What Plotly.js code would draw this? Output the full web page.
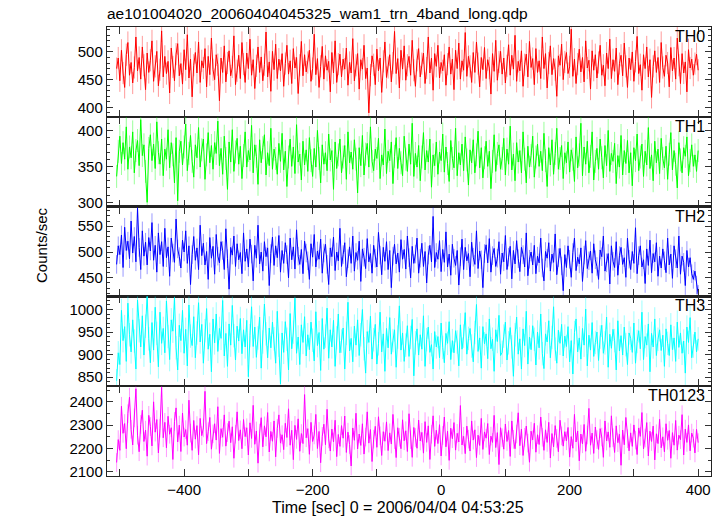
<!DOCTYPE html>
<html>
<head>
<meta charset="utf-8">
<script src="https://cdn.plot.ly/plotly-3.0.1.min.js"></script>
<style>html,body{margin:0;padding:0;background:#fff}#chart{width:724px;height:516px}</style>
</head>
<body>
<div id="chart"></div>
<script>
// Time bins (sec from 2006/04/04 04:53:25)
const tStart = -505;
const binSec = 2.5;

const bandNames = ['TH0', 'TH1', 'TH2', 'TH3', 'TH0123'];

const th0 = [
470,489,448,503,462,436,495,517,458,481,444,472,527,466,490,451,509,476,432,498,
463,485,520,447,474,501,439,468,538,455,492,461,483,426,507,473,448,496,515,457,
479,442,504,468,531,453,487,419,476,499,462,518,445,484,471,506,437,492,459,525,
468,450,495,477,412,489,463,511,446,480,502,457,473,529,441,466,494,452,517,478,
445,498,470,523,458,486,434,475,509,463,491,448,477,536,455,482,429,501,468,514,
452,487,466,497,438,479,512,460,484,443,506,471,490,425,476,519,457,495,464,481,
503,447,470,532,459,488,436,474,510,451,493,467,483,428,499,462,520,445,478,496,
455,487,469,507,440,481,462,524,448,476,497,433,486,469,512,452,471,390,458,493,
477,441,505,466,489,427,483,518,454,472,495,446,480,537,461,488,435,503,469,511,
449,476,492,458,521,467,438,485,506,455,479,498,443,471,527,462,489,431,497,474,
512,453,481,466,495,440,478,509,460,487,432,503,470,516,451,484,467,535,456,492,
474,445,499,463,518,479,437,490,468,508,452,486,471,424,497,465,521,449,482,501,
460,489,444,475,513,458,494,469,530,447,483,466,502,438,477,496,455,519,472,488,
441,506,463,484,452,527,470,497,435,480,511,459,488,468,420,493,476,514,450,482,
499,461,473,541,456,487,443,478,505,464,490,446,520,471,485,433,502,467,495,453,
481,512,458,476,439,498,470,523,452,486,465,507,441,479,494,457,516,474,436,489,
468,500,447,483,528,461,477,431,495,470,509,455,486,418,474,502,463,490,445,517,
472,456,494,480,437,508,466,489,451,525,476,443,497,462,482,428,504,471,487,458,
479,496,467];

const th1 = [
336,371,392,354,383,360,405,346,377,362,398,341,372,386,351,415,365,380,343,300,
375,394,358,381,347,412,369,353,388,337,374,360,401,348,383,366,327,390,302,371,
385,352,377,409,344,368,393,357,335,380,362,404,349,373,388,332,366,397,355,379,
346,383,368,413,351,375,339,392,361,318,384,356,401,343,370,389,353,378,333,365,
398,349,372,359,407,341,380,364,325,387,355,376,394,338,369,351,403,346,374,361,
339,382,357,396,345,371,322,363,388,350,377,340,408,356,367,331,385,352,373,343,
390,358,336,375,349,400,361,327,380,353,369,344,395,359,372,318,384,347,366,388,
341,363,379,332,398,355,370,346,387,360,313,376,351,393,338,367,382,349,405,357,
344,374,361,389,333,366,352,402,340,371,358,384,326,364,390,347,375,355,337,392,
360,343,381,353,410,336,368,349,379,330,363,397,345,372,356,388,321,366,351,384,
339,370,358,395,342,377,354,329,386,361,348,403,337,369,352,381,344,391,359,324,
373,355,387,341,366,399,348,376,334,362,385,350,371,319,357,394,343,368,380,346,
361,389,338,374,353,406,345,367,330,383,356,372,341,398,360,327,378,349,365,392,
335,363,381,350,371,344,396,358,322,376,352,387,339,368,403,346,361,379,333,369,
355,384,342,373,360,329,391,348,366,410,337,377,353,385,341,364,398,331,357,375,
346,388,362,334,379,351,400,343,368,357,382,326,365,349,393,338,372,354,386,341,
369,323,376,358,395,344,363,381,336,371,352,404,347,366,330,385,355,374,340,389,
361,348,378,332,367,397,345,372,353,320,383,359,341,376,364,391,337,358,380,350,
366,343,372];

const th2 = [
476,512,495,533,470,548,503,521,487,560,498,530,481,585,509,466,541,492,519,475,
528,502,557,484,513,461,537,495,520,472,546,489,510,453,527,498,480,564,506,491,
469,523,500,541,478,512,437,495,530,484,508,466,552,493,517,475,501,447,528,488,
511,457,534,492,479,520,503,466,545,487,428,509,494,531,472,516,485,499,458,537,
482,506,471,525,496,444,513,488,552,477,500,463,520,491,508,435,497,529,474,512,
489,532,461,503,478,518,495,450,527,485,510,467,543,492,476,505,458,521,498,483,
447,516,490,534,471,502,486,525,459,498,515,476,437,508,491,529,464,500,483,546,
472,495,518,452,487,510,478,531,463,499,484,521,443,506,490,468,526,481,497,459,
513,488,471,538,494,456,509,482,520,466,503,431,492,515,477,498,461,524,486,505,
467,531,489,450,511,478,496,527,459,488,517,472,501,440,494,513,481,569,470,499,
486,522,462,505,480,539,471,496,455,515,488,474,503,436,491,525,466,509,483,497,
452,519,490,476,541,468,502,485,431,497,514,479,526,461,493,507,472,488,520,457,
498,481,532,466,490,511,448,503,477,522,487,462,509,495,471,537,454,486,500,475,
513,458,492,479,527,469,444,501,488,518,463,496,480,535,456,489,507,473,425,495,
470,512,486,451,499,527,464,490,477,508,443,494,522,468,483,502,459,516,485,472,
447,504,491,531,463,479,497,438,512,482,470,520,455,493,509,476,489,451,527,486,
466,501,478,547,458,493,512,471,485,439,506,474,523,460,497,481,518,453,492,469,
506,483,460,527,475,496,449,512,487,469,531,457,492,480,435,503,471,489,458,447,
463,436,418];

const th3 = [
842,904,878,998,931,962,885,1014,944,906,977,930,868,1021,953,917,986,899,963,1030,
935,882,971,910,1005,947,873,994,925,958,904,1019,940,889,977,952,1026,915,866,965,
931,998,903,956,875,1010,941,920,984,893,948,1015,928,967,881,953,1002,912,945,862,
979,926,990,907,958,936,1020,897,947,874,968,921,1009,942,888,963,930,980,902,955,
917,976,851,942,1006,918,961,894,937,983,870,928,1012,946,893,959,915,972,935,881,
996,921,835,948,905,973,934,866,991,913,950,1025,903,939,878,966,927,984,897,944,
911,972,932,886,995,920,949,865,980,912,941,1003,892,955,917,976,874,937,990,904,
930,959,868,947,1016,908,936,884,963,921,977,898,944,1000,913,859,951,927,985,890,
933,967,879,924,994,906,946,863,958,915,982,901,931,955,872,939,1008,910,948,885,
921,964,896,938,978,853,926,957,899,944,912,986,874,933,961,905,922,868,951,917,
940,893,970,916,882,947,925,973,889,931,904,953,928,875,966,912,941,993,901,936,
958,919,884,949,1011,907,937,870,962,924,946,891,979,913,934,863,955,929,987,898,
905,941,972,888,926,960,917,852,944,983,901,935,868,957,920,996,879,939,911,964,
934,877,950,915,990,902,869,946,928,975,893,938,1006,912,881,954,925,967,897,941,
918,962,884,931,857,949,979,906,937,890,958,921,1001,875,943,910,971,896,927,950,
887,939,965,903,926,983,872,945,914,956,931,866,975,908,942,899,961,922,878,948,
936,905,970,881,929,953,913,994,889,940,921,968,862,947,917,979,898,934,955,909,
943,874,957,925,898,966,911,937,885,972,916,948,903,930,859,961,927,982,893,919,
950,906,935];

const th0123 = [
2140,2238,2192,2381,2265,2307,2199,2349,2420,2282,2215,2331,2456,2257,2186,2303,2364,2230,2279,2167,
2342,2294,2211,2400,2270,2324,2181,2287,2462,2246,2312,2203,2338,2261,2289,2153,2316,2374,2228,2300,
2187,2352,2249,2281,2214,2407,2266,2192,2320,2240,2298,2173,2329,2255,2288,2445,2221,2272,2333,2197,
2263,2306,2236,2379,2179,2285,2248,2344,2210,2268,2317,2225,2293,2158,2261,2357,2234,2280,2199,2324,
2251,2289,2172,2310,2243,2385,2218,2275,2137,2266,2332,2207,2297,2250,2354,2185,2273,2231,2318,2164,
2286,2344,2223,2259,2195,2308,2247,2370,2214,2278,2152,2299,2239,2327,2188,2264,2221,2431,2246,2285,
2175,2312,2230,2258,2346,2200,2273,2139,2252,2304,2216,2368,2241,2189,2283,2228,2321,2165,2260,2209,
2298,2244,2339,2183,2270,2217,2125,2288,2235,2351,2198,2262,2213,2306,2176,2249,2357,2223,2281,2144,
2240,2295,2205,2336,2254,2170,2272,2231,2314,2191,2267,2219,2346,2238,2161,2289,2248,2199,2323,2233,
2276,2187,2349,2238,2162,2290,2247,2201,2322,2232,2269,2180,2315,2226,2297,2153,2261,2340,2209,2278,
2221,2302,2168,2256,2335,2207,2274,2149,2287,2242,2311,2193,2265,2228,2384,2215,2252,2178,2296,2240,
2189,2318,2236,2280,2161,2257,2213,2329,2196,2271,2244,2307,2174,2253,2226,2342,2204,2268,2131,2289,
2246,2197,2305,2230,2277,2166,2318,2239,2199,2262,2353,2212,2283,2170,2248,2296,2223,2141,2274,2237,
2308,2184,2259,2217,2335,2248,2192,2280,2226,2312,2159,2264,2207,2298,2243,2186,2321,2254,2210,2272,
2233,2290,2163,2251,2201,2346,2228,2275,2147,2262,2220,2303,2188,2258,2372,2214,2266,2179,2292,2238,
2196,2285,2249,2162,2318,2232,2271,2205,2340,2246,2183,2297,2225,2261,2128,2279,2216,2333,2242,2190,
2267,2209,2301,2236,2174,2288,2252,2354,2198,2245,2311,2168,2274,2230,2296,2151,2263,2221,2325,2203,
2250,2186,2306,2235,2277,2158,2268,2214,2320,2193,2257,2238,2345,2172,2283,2226,2301,2190,2266,2244,
2181,2282,2225];

const bandErr = [20, 16, 18, 26, 40];

const xTickVals = [-500, -400, -300, -200, -100, 0, 100, 200, 300, 400];
const xTickText = ['', '\u2212400', '', '\u2212200', '', '0', '', '200', '', '400'];

const series = [th0, th1, th2, th3, th0123];
const colors = ['#ff0000', '#00ff00', '#0000ff', '#00ffff', '#ff00ff'];
const errColors = ['rgba(255,0,0,0.4)', 'rgba(0,255,0,0.4)', 'rgba(0,0,255,0.4)', 'rgba(0,255,255,0.4)', 'rgba(255,0,255,0.4)'];
const yRanges = [[383, 545], [294, 419], [414, 588], [830, 1029], [2082, 2467]];
const yDtick = [50, 50, 50, 50, 100];
const yMinor = [10, 10, 10, 10, 50];

const font = {family: 'Liberation Sans, Arial, sans-serif', size: 15, color: '#000'};
const traces = [];
const layout = {
  width: 724, height: 516,
  margin: {l: 107, r: 13, t: 27, b: 40},
  paper_bgcolor: '#fff', plot_bgcolor: '#fff',
  showlegend: false,
  font: font,
  title: {text: 'ae101004020_20060404045325_wam1_trn_4band_long.qdp', xref: 'paper', x: 0, xanchor: 'left', yref: 'container', y: 1 - 14/516, yanchor: 'middle', font: {family: font.family, size: 15.5, color: '#000'}},
  annotations: []
};

const n = 5;
for (let i = 0; i < n; i++) {
  const ys = series[i];
  const xs = ys.map((_, k) => tStart + k * binSec);
  const sfx = i === 0 ? '' : String(i + 1);
  traces.push({
    x: xs, y: ys, type: 'scatter', mode: 'lines',
    xaxis: 'x' + sfx, yaxis: 'y' + sfx,
    line: {color: colors[i], width: 1},
    error_y: {type: 'constant', value: bandErr[i], color: errColors[i], thickness: 1, width: 0},
    hoverinfo: 'skip'
  });
  const top = 1 - i / n, bot = 1 - (i + 1) / n;
  const isBottom = i === n - 1;
  layout['xaxis' + sfx] = {
    anchor: 'y' + sfx, range: [-520, 420], domain: [0, 1],
    tickmode: 'array', tickvals: xTickVals, ticktext: isBottom ? xTickText : xTickVals.map(() => ''),
    showticklabels: isBottom,
    ticks: 'inside', ticklen: 7, tickwidth: 1, tickcolor: '#333',
    showline: true, linecolor: '#222', linewidth: 1.2, mirror: 'allticks',
    showgrid: false, zeroline: false,
    tickfont: {family: font.family, size: 15, color: '#000'}
  };
  if (i > 0) layout['xaxis' + sfx].matches = 'x';
  layout['yaxis' + sfx] = {
    anchor: 'x' + sfx, domain: [bot, top], range: yRanges[i],
    dtick: yDtick[i], tick0: 0,
    ticks: 'inside', ticklen: 6, tickwidth: 1, tickcolor: '#333',
    minor: {dtick: yMinor[i], tick0: 0, ticks: 'inside', ticklen: 3, tickcolor: '#333', showgrid: false},
    showline: true, linecolor: '#222', linewidth: 1.2, mirror: 'allticks',
    showgrid: false, zeroline: false,
    tickfont: {family: font.family, size: 15, color: '#000'}
  };
  layout.annotations.push({
    text: bandNames[i], xref: 'paper', yref: 'paper', x: 1, y: top,
    xanchor: 'right', yanchor: 'top', xshift: -4, yshift: 1, showarrow: false,
    font: {family: font.family, size: 16, color: '#000'}
  });
}

layout.annotations.push({
  text: 'Counts/sec', xref: 'paper', yref: 'paper', x: (41 - 107) / 604, y: (476 - 245) / 449,
  xanchor: 'center', yanchor: 'middle', textangle: -90, showarrow: false,
  font: {family: font.family, size: 15, color: '#000'}
});
layout.annotations.push({
  text: 'Time [sec] 0 = 2006/04/04 04:53:25', xref: 'paper', yref: 'paper', x: (398 - 107) / 604, y: -(507 - 476) / 449,
  xanchor: 'center', yanchor: 'middle', showarrow: false,
  font: {family: font.family, size: 16, color: '#000'}
});

Plotly.newPlot('chart', traces, layout, {displayModeBar: false, staticPlot: true});
</script>
</body>
</html>
